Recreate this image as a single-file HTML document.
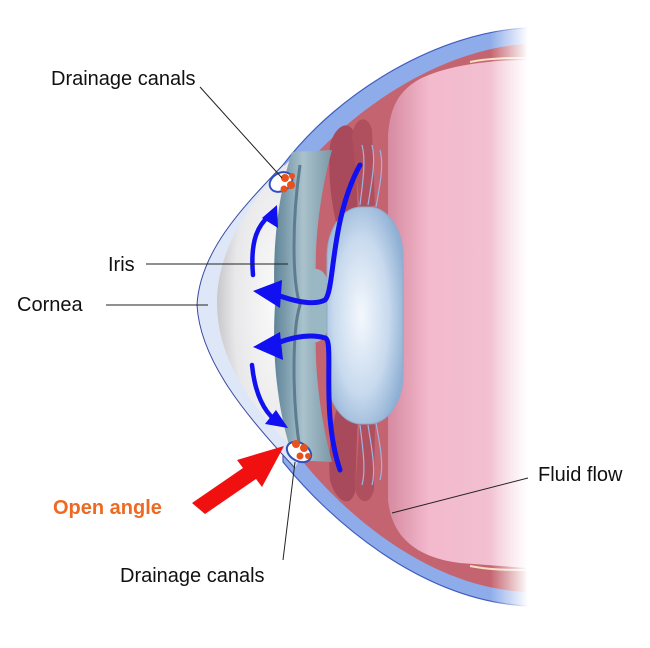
<!DOCTYPE html>
<html><head><meta charset="utf-8"><style>
html,body{margin:0;padding:0;background:#fff}
svg{display:block}
text{font-family:"Liberation Sans",sans-serif}
</style></head><body>
<svg width="650" height="648" viewBox="0 0 650 648" xmlns="http://www.w3.org/2000/svg">
<defs>
<linearGradient id="pink" x1="0" x2="1" y1="0" y2="0">
<stop offset="0" stop-color="#d68aa0"/><stop offset="0.3" stop-color="#f3b9cd"/><stop offset="0.7" stop-color="#f2bfd0"/><stop offset="1" stop-color="#f7d6e2"/>
</linearGradient>
<linearGradient id="fade" x1="0" x2="1">
<stop offset="0" stop-color="#fff" stop-opacity="0"/><stop offset="1" stop-color="#fff" stop-opacity="1"/>
</linearGradient>
<radialGradient id="lens" cx="0.45" cy="0.5" r="0.6">
<stop offset="0" stop-color="#f4f8fd"/><stop offset="0.6" stop-color="#c8daee"/><stop offset="1" stop-color="#8fb0d4"/>
</radialGradient>
<radialGradient id="corn" cx="0.75" cy="0.5" r="0.75">
<stop offset="0" stop-color="#fafafa"/><stop offset="0.7" stop-color="#e8e8ea"/><stop offset="1" stop-color="#c8c8cc"/>
</radialGradient>
<linearGradient id="iris" x1="0" x2="1">
<stop offset="0" stop-color="#5f8498"/><stop offset="0.5" stop-color="#a9c2cc"/><stop offset="1" stop-color="#7b98a8"/>
</linearGradient>
</defs>
<!-- sclera -->
<path d="M527,28 C440,32 340,90 283,165 L283,462 C330,520 420,600 527,606 Z" fill="#8eacea" stroke="#3f5cbf" stroke-width="1.2"/>
<!-- choroid red -->
<path d="M527,44 C450,48 360,100 300,172 L300,458 C345,515 430,588 527,592 Z" fill="#c46470"/>
<!-- pink interior -->
<path d="M527,60 C480,60 440,68 418,80 C398,92 390,108 388,135 L388,500 C392,540 420,558 460,563 L527,568 Z" fill="url(#pink)"/>
<path d="M470,62 C490,58 510,58 527,58" stroke="#f6e0c0" stroke-width="2" fill="none"/>
<path d="M470,566 C490,570 510,570 527,570" stroke="#f6e0c0" stroke-width="2" fill="none"/>
<!-- ciliary dark lobes -->
<path d="M330,145 C335,125 350,118 355,135 L358,225 L338,230 C330,200 328,170 330,145 Z" fill="#a84a5c"/>
<path d="M352,135 C356,115 368,115 372,130 L375,205 L360,210 Z" fill="#b0505f"/>
<path d="M330,480 C335,500 350,510 355,492 L358,410 L338,405 C330,430 328,460 330,480 Z" fill="#a84a5c"/>
<path d="M355,490 C360,505 370,505 374,490 L375,425 L360,420 Z" fill="#b0505f"/>
<!-- cornea outer thin line and fill -->
<path d="M283,165 C245,205 200,250 197,305 C200,360 245,415 295,468 L300,458 L300,172 Z" fill="#dde7f8"/>
<path d="M283,165 C245,205 200,250 197,305 C200,360 245,415 295,468" fill="none" stroke="#3a4aa0" stroke-width="1"/>
<path d="M290,160 C240,210 216,260 217,305 C218,355 245,400 290,445 L295,445 L295,160 Z" fill="url(#corn)"/>
<!-- iris band -->
<path d="M292,152 C276,200 272,260 275,305 C272,350 276,410 294,460 L332,462 C318,410 312,350 318,305 C312,260 318,200 332,150 Z" fill="url(#iris)"/>
<path d="M300,165 C292,220 292,280 300,305 C292,330 292,400 300,450" fill="none" stroke="#5d7d8f" stroke-width="3"/>
<path d="M310,270 C325,265 330,280 332,305 C330,330 325,345 310,342 Z" fill="#9ab8c4"/>
<!-- lens -->
<rect x="327" y="207" width="76" height="217" rx="34" ry="50" fill="url(#lens)" stroke="#90aacb" stroke-width="1"/>
<!-- zonules -->
<g stroke="#9fb4e0" stroke-width="1.2" fill="none">
<path d="M360,205 C363,180 366,160 362,145"/><path d="M368,205 C372,180 376,160 372,145"/><path d="M376,207 C380,185 384,165 380,150"/>
<path d="M360,425 C363,450 366,470 362,485"/><path d="M368,425 C372,450 376,470 372,485"/><path d="M376,423 C380,445 384,465 380,480"/>
</g>
<!-- fade right edge -->
<rect x="490" y="20" width="38" height="600" fill="url(#fade)"/>
<rect x="527" y="0" width="123" height="648" fill="#fff"/>
<!-- drainage canals -->
<ellipse cx="281" cy="182" rx="12" ry="9" fill="#fff" stroke="#3050c0" stroke-width="2" transform="rotate(-30 281 182)"/>
<g fill="#e8501c"><circle cx="285" cy="178" r="4"/><circle cx="291" cy="185" r="4"/><circle cx="284" cy="189" r="3.5"/><circle cx="292" cy="176" r="3"/></g>
<ellipse cx="299" cy="452" rx="13" ry="9" fill="#fff" stroke="#3050c0" stroke-width="2" transform="rotate(30 299 452)"/>
<g fill="#e8501c"><circle cx="296" cy="444" r="4"/><circle cx="304" cy="448" r="4"/><circle cx="300" cy="456" r="3.5"/><circle cx="308" cy="456" r="3"/></g>
<!-- blue flow arrows -->
<g fill="none" stroke="#1010f0" stroke-linecap="round">
<path d="M360,165 C330,220 335,290 325,300 C315,305 300,303 280,296" stroke-width="5"/>
<path d="M340,470 C320,410 335,340 325,338 C315,335 300,335 280,342" stroke-width="5"/>
<path d="M253,275 C250,240 258,225 270,215" stroke-width="4.5"/>
<path d="M252,365 C255,395 265,412 275,420" stroke-width="4.5"/>
</g>
<g fill="#1010f0">
<polygon points="253,291 282,280 280,308"/>
<polygon points="253,347 280,332 283,360"/>
<polygon points="277,205 278,228 262,218"/>
<polygon points="288,428 265,424 276,410"/>
</g>
<!-- red arrow -->
<polygon points="192,503 243,468 237,460 284,446 262,487 256,479 205,514" fill="#f01010"/>
<!-- leader lines -->
<g stroke="#222" stroke-width="1" fill="none">
<line x1="200" y1="87" x2="282" y2="178"/>
<line x1="146" y1="264" x2="288" y2="264"/>
<line x1="106" y1="305" x2="208" y2="305"/>
<line x1="283" y1="560" x2="295" y2="462"/>
<line x1="392" y1="513" x2="528" y2="478"/>
</g>
<g font-size="20" fill="#111">
<text x="51" y="85">Drainage canals</text>
<text x="108" y="271">Iris</text>
<text x="17" y="311">Cornea</text>
<text x="538" y="481">Fluid flow</text>
<text x="120" y="582">Drainage canals</text>
</g>
<text x="53" y="514" font-size="20" font-weight="bold" fill="#ee6a22">Open angle</text>
</svg>
</body></html>
